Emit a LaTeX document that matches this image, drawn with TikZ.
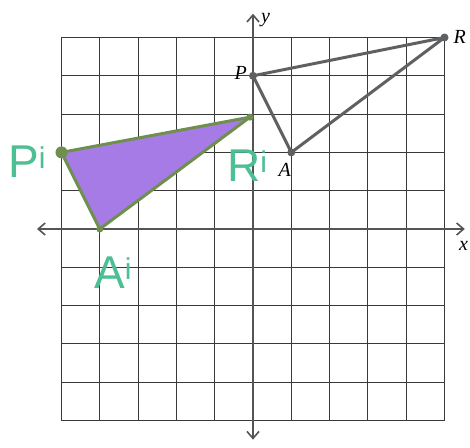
\documentclass[tikz,border=0pt]{standalone}
\usepackage{fontspec}
\setmainfont{Liberation Serif}
\newfontfamily\handfont{Liberation Sans}
\usetikzlibrary{arrows.meta}
\definecolor{gridc}{HTML}{3A3A3A}
\definecolor{axisc}{HTML}{555555}
\definecolor{trig}{HTML}{5E6062}
\definecolor{purp}{HTML}{A77BE6}
\definecolor{olive}{HTML}{6E8F4E}
\definecolor{hand}{HTML}{4DBF94}
\begin{document}
\begin{tikzpicture}[x=38.3pt,y=38.3pt,
  gridline/.style={draw=gridc,line width=1pt},
  axisline/.style={draw=axisc,line width=1.6pt,-{Straight Barb[length=7pt,width=12pt,line width=1.6pt]}},
  tri/.style={draw=trig,line width=3pt,line join=round},
  vdot/.style={circle,fill=trig,inner sep=0pt,minimum size=8pt},
  pdot/.style={circle,fill=olive,inner sep=0pt,minimum size=12pt},
  odot/.style={circle,fill=olive,inner sep=0pt,minimum size=7pt},
  lab/.style={font=\itshape\fontsize{20}{20}\selectfont},
  hlab/.style={text=hand,font=\handfont\fontsize{46}{46}\selectfont}]
\useasboundingbox (-253pt,-218pt) rectangle (217pt,229pt);
\fill[white] (-253pt,-218pt) rectangle (217pt,229pt);
% grid
\draw[gridline,step={(1,1)}] (-5,-5) grid (5,5);
% axes
\coordinate (o) at (0,0);
\coordinate (xl) at (-5.64,0);
\coordinate (xr) at (5.53,0);
\coordinate (yt) at (0,5.62);
\coordinate (yb) at (0,-5.5);
\draw[axisline] (o) -- (xl);
\draw[axisline] (o) -- (xr);
\draw[axisline] (o) -- (yt);
\draw[axisline] (o) -- (yb);
\node[lab,anchor=west] (ylab) at (0.12,5.45) {y};
\node[lab] (xlab) at (5.5,-0.45) {x};
% purple triangle
\coordinate (Pp) at (-5,2);
\coordinate (Rp) at (-0.08,2.92);
\coordinate (Ap) at (-4,0);
\filldraw[fill=purp,draw=olive,line width=3pt,line join=round] (Pp) -- (Rp) -- (Ap) -- cycle;
\node[pdot] at (Pp) {};
\node[odot] at (Ap) {};
\node[odot] at (Rp) {};
\node[hlab] (lPp) at (-5.9,1.75) {P\textsuperscript{\fontsize{30}{30}\selectfont i}};
\node[hlab] (lRp) at (-0.15,1.65) {R\textsuperscript{\fontsize{30}{30}\selectfont i}};
\node[hlab] (lAp) at (-3.65,-1.15) {A\textsuperscript{\fontsize{30}{30}\selectfont i}};
% original triangle
\node[vdot] (P) at (0,4) {};
\node[vdot] (R) at (5,5) {};
\node[vdot] (A) at (1,2) {};
\draw[tri] (P.center) -- (R.center) -- (A.center) -- cycle;
\node[lab] (lP) at (-0.32,4.08) {P};
\node[lab] (lR) at (5.4,5.02) {R};
\node[lab] (lA) at (0.83,1.55) {A};
\end{tikzpicture}
\end{document}
